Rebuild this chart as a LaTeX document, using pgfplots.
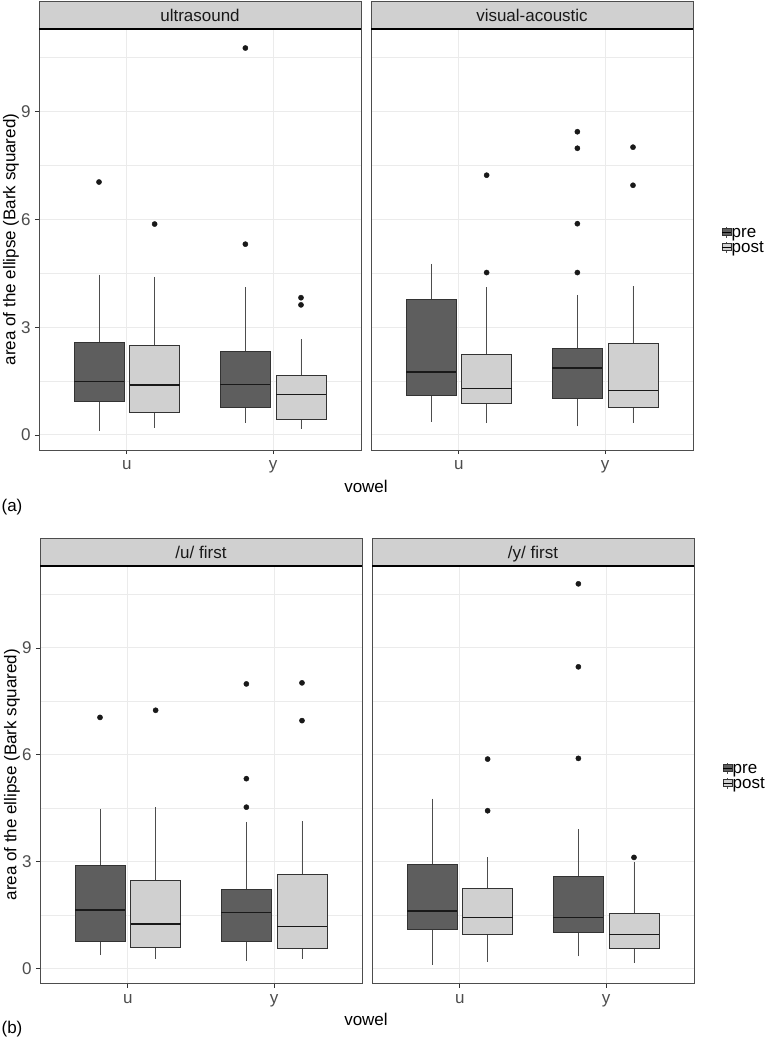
\documentclass[border=0pt]{standalone}
\usepackage{fontspec}
\setmainfont{Liberation Sans}
\usepackage{pgfplots}
\pgfplotsset{compat=1.18}
\usepgfplotslibrary{statistics}
\definecolor{prec}{HTML}{5E5E5E}
\definecolor{postc}{HTML}{D0D0D0}
\definecolor{gridc}{HTML}{EBEBEB}
\definecolor{stripc}{HTML}{D0D0D0}
\definecolor{tickc}{HTML}{4D4D4D}
\definecolor{borderc}{HTML}{333333}
\newcommand\fs{\fontsize{17}{20}\selectfont}
\newcommand\bp[7]{\addplot[boxplot prepared={draw position=#1, lower whisker=#2, lower quartile=#3, median=#4, upper quartile=#5, upper whisker=#6}, fill=#7, mark=*, mark size=2.6pt, mark options={draw=black!90, fill=black!90}]}
\pgfplotsset{
 facet/.style={
  scale only axis, anchor=north west, width=322pt, height=421pt,
  xmin=0.4, xmax=2.6, ymin=-0.42, ymax=11.3,
  xtick={1,2}, xticklabels={u,y},
  ytick={0,3,6,9}, yticklabels={0,3,6,9}, minor ytick={1.5,4.5,7.5,10.5},
  xtick pos=bottom, ytick pos=left,
  xmajorgrids, ymajorgrids, yminorgrids,
  major grid style={gridc, line width=1.1pt},
  minor grid style={gridc, line width=0.6pt},
  axis line style={draw=tickc, line width=0.9pt},
  tick align=outside, major tick length=4pt, minor tick length=0pt,
  tick style={borderc, line width=0.8pt},
  /pgf/number format/assume math mode=true,
  ticklabel style={font=\fs, text=tickc},
  xticklabel style={yshift=-3pt},
  yticklabel style={xshift=-1pt},
  boxplot/draw direction=y,
  boxplot/box extend=0.34, boxplot/whisker extend=0,
  boxplot/every median/.style={black!90, line width=1.4pt},
  boxplot/every whisker/.style={draw=tickc, line width=0.7pt},
  boxplot/every box/.style={draw=borderc, line width=0.7pt},
 },
 outer/.style={facet, ylabel={area of the ellipse (Bark squared)},
  ylabel style={font=\fs, at={(axis description cs:-0.087,0.5)}, anchor=center}},
 inner/.style={facet, yticklabels={}, ytick style={draw=none}},
}
\newcommand\legkey[3]{% x, y (centre), fill
  \draw[tickc, line width=0.5pt] (#1+4.5pt,#2-5.5pt) -- (#1+4.5pt,#2+5.5pt);
  \draw[draw=borderc, fill=#3, line width=0.5pt] (#1,#2-3.5pt) rectangle (#1+9pt,#2+3.5pt);
  \draw[black, line width=0.8pt] (#1,#2) -- (#1+9pt,#2);}
\newcommand\strip[2]{% axis name, text
  \draw[fill=stripc, draw=tickc, line width=0.9pt] (#1.north west) rectangle ([yshift=28pt]#1.north east);
  \draw[black, line width=1.2pt] (#1.north west) -- (#1.north east);
  \node[font=\fs, text=black!90, anchor=base, inner sep=0pt] at ([yshift=7.5pt]#1.north) {#2};}
\begin{document}
\begin{tikzpicture}
\useasboundingbox (0,0) rectangle (772pt,-1046pt);
% ---------- (a) ultrasound ----------
\begin{axis}[outer, at={(39pt,-29pt)}, name=aL]
\bp{0.81}{0.11}{0.94}{1.49}{2.59}{4.46}{prec} coordinates {(0,7.04)};
\bp{1.19}{0.20}{0.63}{1.39}{2.49}{4.41}{postc} coordinates {(0,5.87)};
\bp{1.81}{0.34}{0.77}{1.41}{2.32}{4.11}{prec} coordinates {(0,10.77) (0,5.31)};
\bp{2.19}{0.16}{0.44}{1.12}{1.66}{2.66}{postc} coordinates {(0,3.82) (0,3.62)};
\end{axis}
% ---------- (a) visual-acoustic ----------
\begin{axis}[inner, at={(371pt,-29pt)}, name=aR]
\bp{0.81}{0.37}{1.10}{1.75}{3.78}{4.76}{prec} coordinates {};
\bp{1.19}{0.32}{0.87}{1.30}{2.25}{4.11}{postc} coordinates {(0,7.23) (0,4.52)};
\bp{1.81}{0.24}{1.02}{1.86}{2.41}{3.90}{prec} coordinates {(0,8.44) (0,7.98) (0,5.88) (0,4.52)};
\bp{2.19}{0.33}{0.78}{1.23}{2.56}{4.15}{postc} coordinates {(0,8.01) (0,6.95)};
\end{axis}
\strip{aL}{ultrasound}
\strip{aR}{visual-acoustic}
\legkey{722pt}{-232pt}{prec}
\legkey{722pt}{-247pt}{postc}
\node[font=\fs, anchor=base west, inner sep=0pt] at (731.5pt,-237pt) {pre};
\node[font=\fs, anchor=base west, inner sep=0pt] at (731.5pt,-252pt) {post};
\node[font=\fs] at (366pt,-486pt) {vowel};
\node[font=\fs] at (12pt,-507pt) {(a)};
% ---------- (b) /u/ first ----------
\begin{axis}[outer, at={(40pt,-566pt)}, height=417.5pt, name=bL]
\bp{0.81}{0.375}{0.77}{1.64}{2.90}{4.47}{prec} coordinates {(0,7.05)};
\bp{1.19}{0.28}{0.59}{1.25}{2.48}{4.53}{postc} coordinates {(0,7.25)};
\bp{1.81}{0.22}{0.75}{1.57}{2.22}{4.12}{prec} coordinates {(0,7.99) (0,5.33) (0,4.53)};
\bp{2.19}{0.27}{0.58}{1.18}{2.64}{4.15}{postc} coordinates {(0,8.02) (0,6.96)};
\end{axis}
% ---------- (b) /y/ first ----------
\begin{axis}[inner, at={(372pt,-566pt)}, height=417.5pt, name=bR]
\bp{0.81}{0.11}{1.11}{1.62}{2.92}{4.77}{prec} coordinates {};
\bp{1.19}{0.19}{0.95}{1.43}{2.25}{3.12}{postc} coordinates {(0,5.88) (0,4.43)};
\bp{1.81}{0.34}{1.03}{1.43}{2.59}{3.91}{prec} coordinates {(0,10.80) (0,8.47) (0,5.90)};
\bp{2.19}{0.15}{0.56}{0.95}{1.56}{3.00}{postc} coordinates {(0,3.12)};
\end{axis}
\strip{bL}{/u/ first}
\strip{bR}{/y/ first}
\legkey{723pt}{-768pt}{prec}
\legkey{723pt}{-783pt}{postc}
\node[font=\fs, anchor=base west, inner sep=0pt] at (732.5pt,-773pt) {pre};
\node[font=\fs, anchor=base west, inner sep=0pt] at (732.5pt,-788pt) {post};
\node[font=\fs] at (366pt,-1019pt) {vowel};
\node[font=\fs] at (12pt,-1029pt) {(b)};
\end{tikzpicture}
\end{document}
